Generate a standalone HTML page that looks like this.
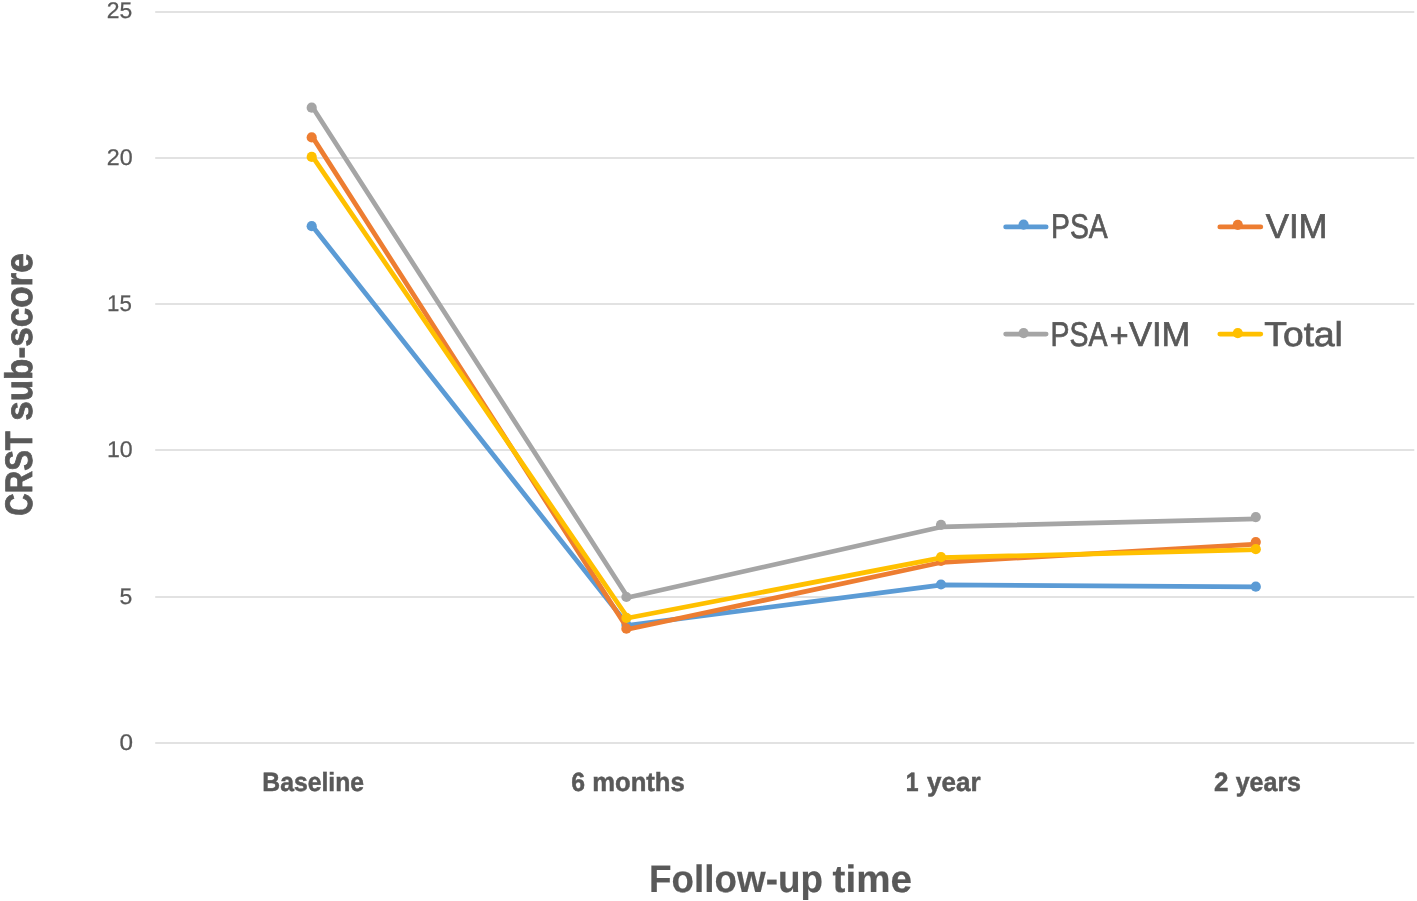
<!DOCTYPE html>
<html lang="en">
<head>
<meta charset="utf-8">
<title>CRST sub-score by follow-up time</title>
<style>
  html, body { margin: 0; padding: 0; background: #ffffff; }
  body { width: 1417px; height: 901px; overflow: hidden; }
  svg { display: block; }
  text { font-family: "Liberation Sans", sans-serif; fill: #595959; stroke: #595959; stroke-width: 0; white-space: pre; text-rendering: geometricPrecision; }
  .tick { font-size: 22.6px; stroke-width: 0.25; }
  .cat { font-size: 26.4px; font-weight: bold; stroke-width: 0.5; }
  .title { font-size: 38.3px; font-weight: bold; stroke-width: 0.2; }
  .leg { font-size: 34.4px; stroke-width: 0.7; }
  .grid line { stroke: #d9d9d9; stroke-width: 1.5; }
  .series polyline { fill: none; stroke-width: 4.75; stroke-linecap: round; stroke-linejoin: round; }
</style>
</head>
<body>
<svg width="1417" height="901" viewBox="0 0 1417 901">
  <rect x="0" y="0" width="1417" height="901" fill="#ffffff"/>
  <g class="grid">
    <line x1="155.2" y1="12" x2="1414.3" y2="12"/>
    <line x1="155.2" y1="158" x2="1414.3" y2="158"/>
    <line x1="155.2" y1="304" x2="1414.3" y2="304"/>
    <line x1="155.2" y1="450" x2="1414.3" y2="450"/>
    <line x1="155.2" y1="597" x2="1414.3" y2="597"/>
    <line x1="155.2" y1="743" x2="1414.3" y2="743"/>
  </g>
  <g class="ticks">
    <text id="t25" class="tick" y="18.00"><tspan id="t25_0" x="106.73" textLength="25.53" lengthAdjust="spacingAndGlyphs">25</tspan></text>
    <text id="t20" class="tick" y="165.20"><tspan id="t20_0" x="106.81" textLength="25.89" lengthAdjust="spacingAndGlyphs">20</tspan></text>
    <text id="t15" class="tick" y="311.30"><tspan id="t15_0" x="107.10" textLength="24.82" lengthAdjust="spacingAndGlyphs">15</tspan></text>
    <text id="t10" class="tick" y="457.30"><tspan id="t10_0" x="106.95" textLength="25.78" lengthAdjust="spacingAndGlyphs">10</tspan></text>
    <text id="t5" class="tick" y="604.10"><tspan id="t5_0" x="119.47" textLength="12.81" lengthAdjust="spacingAndGlyphs">5</tspan></text>
    <text id="t0" class="tick" y="750.20"><tspan id="t0_0" x="119.45" textLength="13.53" lengthAdjust="spacingAndGlyphs">0</tspan></text>
  </g>
  <g class="cats">
    <text id="c1" class="cat" y="790.50"><tspan id="c1_0" x="262.32" textLength="101.67" lengthAdjust="spacingAndGlyphs">Baseline</tspan></text>
    <text id="c2" class="cat" y="790.50"><tspan id="c2_0" x="571.18" textLength="13.79" lengthAdjust="spacingAndGlyphs">6</tspan> <tspan id="c2_1" x="592.19" textLength="92.62" lengthAdjust="spacingAndGlyphs">months</tspan></text>
    <text id="c3" class="cat" y="790.50"><tspan id="c3_0" x="905.83" textLength="12.79" lengthAdjust="spacingAndGlyphs">1</tspan> <tspan id="c3_1" x="927.03" textLength="53.53" lengthAdjust="spacingAndGlyphs">year</tspan></text>
    <text id="c4" class="cat" y="790.50"><tspan id="c4_0" x="1213.96" textLength="14.44" lengthAdjust="spacingAndGlyphs">2</tspan> <tspan id="c4_1" x="1235.66" textLength="65.37" lengthAdjust="spacingAndGlyphs">years</tspan></text>
  </g>
  <text id="xt" class="title" y="891.80"><tspan id="xt_0" x="648.99" textLength="173.98" lengthAdjust="spacingAndGlyphs">Follow-up</tspan> <tspan id="xt_1" x="832.58" textLength="79.40" lengthAdjust="spacingAndGlyphs">time</tspan></text>
  <text id="yt" class="title" style="stroke-width:0.8" transform="translate(31.60 0) rotate(-90)" y="0"><tspan id="yt_0" x="-515.63" textLength="84.44" lengthAdjust="spacingAndGlyphs">CRST</tspan> <tspan id="yt_1" x="-420.86" textLength="167.55" lengthAdjust="spacingAndGlyphs">sub-score</tspan></text>
  <g class="series">
    <g id="s-psa">
      <polyline stroke="#5b9bd5" points="312.9,226.8 627.9,625.3 942.2,584.9 1256.8,586.8"/>
      <g fill="#5b9bd5"><circle cx="311.7" cy="226.2" r="5.1"/><circle cx="626.4" cy="624.8" r="5.1"/><circle cx="941.0" cy="584.5" r="5.1"/><circle cx="1255.8" cy="586.7" r="5.1"/></g>
    </g>
    <g id="s-vim">
      <polyline stroke="#ed7d31" points="312.9,137.6 627.9,629.3 942.2,562.3 1256.8,544.1"/>
      <g fill="#ed7d31"><circle cx="311.7" cy="137.4" r="5.1"/><circle cx="626.4" cy="628.7" r="5.1"/><circle cx="941.0" cy="560.9" r="5.1"/><circle cx="1255.8" cy="542.1" r="5.1"/></g>
    </g>
    <g id="s-psavim">
      <polyline stroke="#a5a5a5" points="312.9,107.8 627.9,597.5 942.2,526.8 1256.8,518.9"/>
      <g fill="#a5a5a5"><circle cx="311.7" cy="107.65" r="5.1"/><circle cx="626.4" cy="597.0" r="5.1"/><circle cx="941.0" cy="524.95" r="5.1"/><circle cx="1255.8" cy="517.05" r="5.1"/></g>
    </g>
    <g id="s-total">
      <polyline stroke="#ffc000" points="312.9,157.1 627.9,618.0 942.2,557.7 1256.8,549.6"/>
      <g fill="#ffc000"><circle cx="311.7" cy="156.9" r="5.1"/><circle cx="626.4" cy="617.9" r="5.1"/><circle cx="941.0" cy="557.1" r="5.1"/><circle cx="1255.8" cy="549.15" r="5.1"/></g>
    </g>
  </g>
  <g class="legend series">
    <polyline stroke="#5b9bd5" points="1005.65,226.9 1046.15,226.9"/>
    <circle fill="#5b9bd5" cx="1023.6" cy="224.7" r="5.1"/>
    <text id="l1" class="leg" y="238.10"><tspan id="l1_0" x="1051.00" textLength="56.75" lengthAdjust="spacingAndGlyphs">PSA</tspan></text>
    <polyline stroke="#ed7d31" points="1219.8,226.9 1260.8,226.9"/>
    <circle fill="#ed7d31" cx="1237.8" cy="224.9" r="5.1"/>
    <text id="l2" class="leg" y="238.10"><tspan id="l2_0" x="1265.72" textLength="61.80" lengthAdjust="spacingAndGlyphs">VIM</tspan></text>
    <polyline stroke="#a5a5a5" points="1005.65,334.1 1046.15,334.1"/>
    <circle fill="#a5a5a5" cx="1023.6" cy="333.1" r="5.1"/>
    <text id="l3" class="leg" y="345.50"><tspan id="l3_0" x="1050.47" textLength="56.92" lengthAdjust="spacingAndGlyphs">PSA</tspan><tspan id="l3_1" x="1109.66" dy="1.2" textLength="18.79" lengthAdjust="spacingAndGlyphs">+</tspan><tspan id="l3_2" x="1129.00" dy="-1.2" textLength="61.36" lengthAdjust="spacingAndGlyphs">VIM</tspan></text>
    <polyline stroke="#ffc000" points="1219.8,334.1 1260.8,334.1"/>
    <circle fill="#ffc000" cx="1237.8" cy="333.2" r="5.1"/>
    <text id="l4" class="leg" y="345.50"><tspan id="l4_0" x="1264.38" textLength="78.52" lengthAdjust="spacingAndGlyphs">Total</tspan></text>
  </g>
</svg>
</body>
</html>
